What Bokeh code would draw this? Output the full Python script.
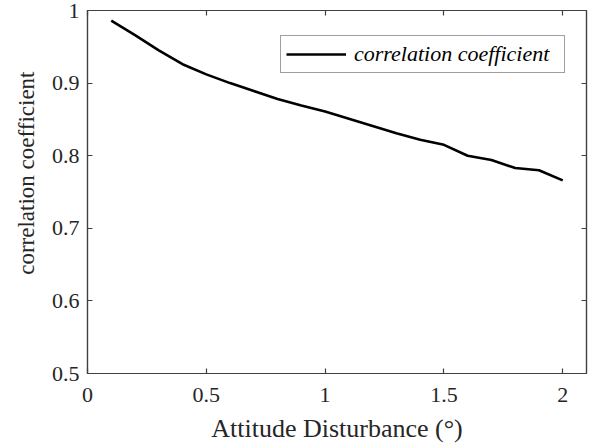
from bokeh.plotting import figure
from bokeh.models import LinearAxis, Range1d, Legend, LegendItem, FixedTicker, Title
from bokeh.embed import file_html
from bokeh.resources import INLINE

# Correlation coefficient versus attitude disturbance
disturbance = [0.1, 0.2, 0.3, 0.4, 0.5, 0.6, 0.7, 0.8, 0.9, 1.0,
               1.1, 1.2, 1.3, 1.4, 1.5, 1.6, 1.7, 1.8, 1.9, 2.0]
correlation = [0.986, 0.966, 0.945, 0.926, 0.912, 0.900, 0.889, 0.878, 0.869, 0.861,
               0.851, 0.841, 0.831, 0.822, 0.815, 0.800, 0.794, 0.783, 0.780, 0.766]

x_ticks = [0, 0.5, 1, 1.5, 2]
x_tick_labels = ["0", "0.5", "1", "1.5", "2"]
y_ticks = [0.5, 0.6, 0.7, 0.8, 0.9, 1.0]
y_tick_labels = ["0.5", "0.6", "0.7", "0.8", "0.9", "1"]

FONT = "Liberation Serif"
TEXT = "#262626"
FRAME = "#404040"

p = figure(width=594, height=448, output_backend="svg", toolbar_location=None,
           x_range=Range1d(0, 2.1), y_range=Range1d(0.5, 1.0),
           min_border_left=87, min_border_right=8, min_border_top=10,
           min_border_bottom=75)
p.grid.visible = False
p.outline_line_color = FRAME
p.outline_line_width = 1.2
p.background_fill_color = "white"
p.border_fill_color = "white"

line = p.line(disturbance, correlation, line_color="black", line_width=2.6)

def style_axis(ax, ticks, labels, show_labels=True):
    ax.ticker = FixedTicker(ticks=ticks)
    if show_labels:
        ax.major_label_overrides = {t: l for t, l in zip(ticks, labels)}
    else:
        ax.major_label_overrides = {t: "" for t in ticks}
    ax.minor_tick_line_color = None
    ax.major_tick_in = 5
    ax.major_tick_out = 0
    ax.axis_line_color = FRAME
    ax.axis_line_width = 1.2
    ax.major_tick_line_color = FRAME
    ax.major_tick_line_width = 1.2
    ax.major_label_text_font = FONT
    ax.major_label_text_color = TEXT
    ax.major_label_text_font_size = "22px"
    ax.axis_label_text_font = FONT
    ax.axis_label_text_font_style = "normal"
    ax.axis_label_text_color = TEXT
    ax.axis_label_text_font_size = "26px"

xa = p.xaxis[0]
style_axis(xa, x_ticks, x_tick_labels)
xa.axis_label = "Attitude Disturbance (°)"
xa.major_label_standoff = 14
xa.axis_label_standoff = 9

ya = p.yaxis[0]
style_axis(ya, y_ticks, y_tick_labels)
ya.major_label_standoff = 8

top = LinearAxis()
style_axis(top, x_ticks, x_tick_labels, show_labels=False)
p.add_layout(top, "above")
right = LinearAxis()
style_axis(right, y_ticks, y_tick_labels, show_labels=False)
p.add_layout(right, "right")

# y-axis title, its top end held a fixed distance below the frame's top
p.add_layout(Title(text="correlation coefficient", align="right", offset=61,
                   standoff=20, text_font=FONT, text_font_size="23px",
                   text_font_style="normal", text_color=TEXT), "left")

legend = Legend(items=[LegendItem(label="correlation coefficient", renderers=[line])],
                location=(193, 300), margin=0, padding=5, spacing=0,
                glyph_width=60, glyph_height=20, label_standoff=8, label_width=205,
                label_text_font=FONT, label_text_font_style="italic",
                label_text_font_size="22px", label_text_color="black",
                border_line_color=FRAME, border_line_width=1.2,
                background_fill_color="white", background_fill_alpha=1.0)
p.add_layout(legend)

open("out.html", "w").write(file_html(p, INLINE))
